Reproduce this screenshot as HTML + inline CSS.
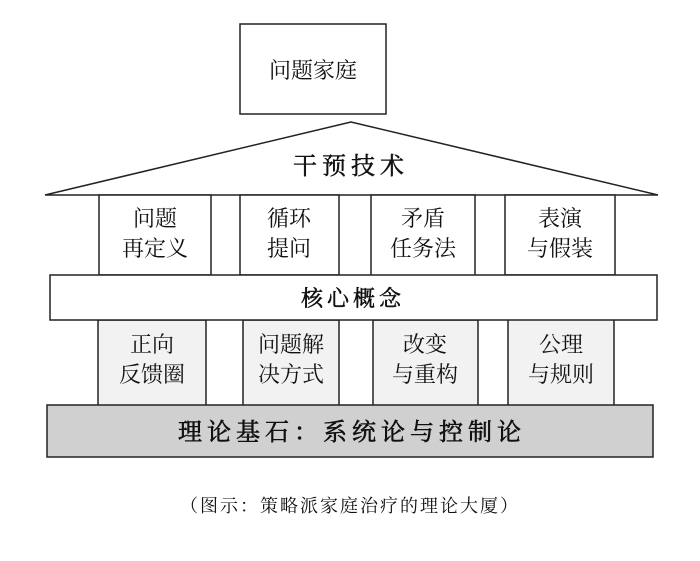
<!DOCTYPE html>
<html><head><meta charset="utf-8"><style>
body{margin:0;background:#fff}
svg text{font-family:"Liberation Serif","Noto Serif CJK SC",serif;fill:#111}
</style></head><body>
<svg width="700" height="556" xmlns="http://www.w3.org/2000/svg">
<g stroke="#222" stroke-width="1.5">
<rect x="240" y="24" width="146" height="90" fill="#fff"/>
<polygon points="351,122 45,195 658,195" fill="#fff"/>
<rect x="99" y="195" width="112" height="80" fill="#fff"/>
<rect x="240" y="195" width="99" height="80" fill="#fff"/>
<rect x="371" y="195" width="104" height="81" fill="#fff"/>
<rect x="505" y="195" width="110" height="80" fill="#fff"/>
<rect x="98" y="320" width="108" height="86" fill="#f2f2f2"/>
<rect x="243" y="320" width="96" height="86" fill="#f2f2f2"/>
<rect x="373" y="320" width="105" height="86" fill="#f2f2f2"/>
<rect x="508" y="319" width="106" height="87" fill="#f2f2f2"/>
<rect x="50" y="275" width="607" height="45" fill="#fff"/>
<rect x="47" y="405" width="606" height="52" fill="#d0d0d0"/>
</g>
<g text-anchor="middle" font-size="22">
<text x="313" y="78">问题家庭</text>
<text x="351" y="174" font-size="24" letter-spacing="5" stroke="#111" stroke-width="0.5">干预技术</text>
<text x="155" y="226">问题</text><text x="155" y="256">再定义</text>
<text x="289" y="226">循环</text><text x="289" y="256">提问</text>
<text x="423" y="226">矛盾</text><text x="423" y="256">任务法</text>
<text x="560" y="226">表演</text><text x="560" y="256">与假装</text>
<text x="353" y="306" font-size="22" letter-spacing="4" stroke="#111" stroke-width="0.5">核心概念</text>
<text x="152" y="352">正向</text><text x="152" y="382">反馈圈</text>
<text x="291" y="352">问题解</text><text x="291" y="382">决方式</text>
<text x="425" y="352">改变</text><text x="425" y="382">与重构</text>
<text x="561" y="352">公理</text><text x="561" y="382">与规则</text>
<text x="352" y="440" font-size="24" letter-spacing="5" stroke="#111" stroke-width="0.6">理论基石：系统论与控制论</text>
<text x="350" y="512" font-size="18" letter-spacing="2">（图示：策略派家庭治疗的理论大厦）</text>
</g>
</svg>
</body></html>
